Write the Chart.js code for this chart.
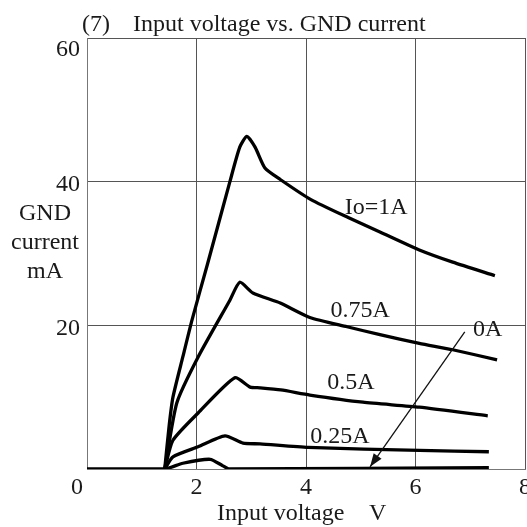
<!DOCTYPE html>
<html>
<head>
<meta charset="utf-8">
<script src="https://cdn.jsdelivr.net/npm/chart.js@4/dist/chart.umd.min.js"></script>
<style>
  html, body { margin: 0; padding: 0; background: #fff; }
  #wrap { width: 527px; height: 527px; }
</style>
</head>
<body>
<div id="wrap"><canvas id="chart" width="527" height="527"></canvas></div>
<script>
// ===== data =====
const xTicks = [0, 2, 4, 6, 8];
const yTicks = [20, 40, 60];

// Io = 1A
const io100V = [1.42, 1.5, 1.57, 1.75, 1.92, 2.2, 2.61, 2.79, 2.92, 3.07, 3.25, 3.53, 4.09, 4.77, 5.35, 6.07, 6.68, 7.45];
const io100I = [0, 6, 10, 15.6, 20.8, 28.5, 40, 44.8, 46.3, 44.8, 41.9, 40.3, 37.5, 35, 33, 30.5, 28.8, 26.9];
// 0.75A
const io075V = [1.42, 1.64, 2.03, 2.61, 2.79, 3.03, 3.53, 4.07, 4.75, 5.35, 6.07, 6.68, 7.49];
const io075I = [0, 9.2, 15.6, 23.5, 26, 24.5, 23.1, 21.1, 19.8, 18.7, 17.5, 16.6, 15.2];
// 0.5A
const io050V = [1.42, 1.57, 2.03, 2.7, 2.98, 3.16, 3.54, 4.07, 5.04, 6.07, 7.32];
const io050I = [0, 4, 7.8, 12.7, 11.4, 11.3, 11.0, 10.3, 9.3, 8.6, 7.4];
// 0.25A
const io025V = [1.42, 1.57, 2.03, 2.52, 2.85, 3.16, 4.04, 6.07, 7.34];
const io025I = [0, 1.7, 3.1, 4.6, 3.6, 3.5, 3.0, 2.6, 2.4];
// 0A
const io000V = [0, 1.42, 1.75, 2.25, 2.47, 2.6, 7.34];
const io000I = [0, 0, 0.8, 1.35, 0.5, 0, 0.2];

const seriesV = [io100V, io075V, io050V, io025V, io000V];
const seriesI = [io100I, io075I, io050I, io025I, io000I];

// curve labels: text, x (V), y (mA)
const labelText = ['Io=1A', '0.75A', '0.5A', '0.25A', '0A'];
const labelX = [5.28, 4.99, 4.82, 4.62, 7.32];
const labelY = [36.4, 22.1, 12.0, 4.5, 19.4];

// ===== build datasets =====
const datasets = seriesV.map((xs, i) => ({
    data: xs.map((v, k) => ({ x: v, y: seriesI[i][k] })),
    borderColor: '#000',
    borderWidth: 3.3,
    pointRadius: 0,
    tension: 0.2,
    fill: false
}));

const FONT = '"Liberation Serif", "Times New Roman", serif';
const TXT = '#1a1a1a';

// ===== text and arrow drawn through the scales =====
const decor = {
    id: 'decor',
    afterDraw(chart) {
        const ctx = chart.ctx;
        const xs = chart.scales.x, ys = chart.scales.y;
        ctx.save();
        ctx.fillStyle = TXT;
        ctx.font = '24px ' + FONT;

        // title
        ctx.textAlign = 'left';
        ctx.textBaseline = 'alphabetic';
        ctx.fillText('(7)', 82, 31);
        ctx.fillText('Input voltage vs. GND current', 133, 31);

        // x tick labels
        ctx.textAlign = 'center';
        ctx.textBaseline = 'middle';
        xTicks.forEach(t => {
            let px = xs.getPixelForValue(t);
            if (t === 0) px -= 10;
            ctx.fillText(String(t), px, ys.bottom + 19);
        });

        // y tick labels
        ctx.textAlign = 'right';
        yTicks.forEach(t => {
            const py = Math.max(ys.getPixelForValue(t) + 3, 50);
            ctx.fillText(String(t), xs.left - 7, py);
        });

        // axis titles
        ctx.textAlign = 'left';
        ctx.fillText('Input voltage', 217, 514);
        ctx.fillText('V', 369, 514);
        ctx.textAlign = 'center';
        ctx.fillText('GND', 45, 214);
        ctx.fillText('current', 45, 243);
        ctx.fillText('mA', 45, 272);

        // curve labels
        labelText.forEach((t, i) => {
            ctx.fillText(t, xs.getPixelForValue(labelX[i]), ys.getPixelForValue(labelY[i]));
        });

        // arrow pointing at the 0A curve
        const ax0 = xs.getPixelForValue(6.9), ay0 = ys.getPixelForValue(19.1);
        const ax1 = xs.getPixelForValue(5.17), ay1 = ys.getPixelForValue(0.3);
        ctx.strokeStyle = '#111';
        ctx.lineWidth = 1.3;
        ctx.beginPath();
        ctx.moveTo(ax0, ay0);
        ctx.lineTo(ax1, ay1);
        ctx.stroke();
        const ang = Math.atan2(ay1 - ay0, ax1 - ax0);
        const L = 14, W = 0.35;
        ctx.beginPath();
        ctx.moveTo(ax1, ay1);
        ctx.lineTo(ax1 - L * Math.cos(ang - W), ay1 - L * Math.sin(ang - W));
        ctx.lineTo(ax1 - L * Math.cos(ang + W), ay1 - L * Math.sin(ang + W));
        ctx.closePath();
        ctx.fillStyle = '#111';
        ctx.fill();
        ctx.restore();
    }
};

new Chart(document.getElementById('chart'), {
    type: 'line',
    data: { datasets },
    options: {
        responsive: false,
        animation: false,
        layout: { padding: { left: 87, right: 2, top: 38, bottom: 58 } },
        plugins: { legend: { display: false }, tooltip: { enabled: false } },
        scales: {
            x: {
                type: 'linear', min: 0, max: 8,
                ticks: { display: false, stepSize: 2 },
                grid: { color: '#555', lineWidth: 1, drawTicks: false },
                border: { display: true, color: '#777' }
            },
            y: {
                type: 'linear', min: 0, max: 60,
                ticks: { display: false, stepSize: 20 },
                grid: { color: '#555', lineWidth: 1, drawTicks: false },
                border: { display: true, color: '#777' }
            }
        }
    },
    plugins: [decor]
});
</script>
</body>
</html>
